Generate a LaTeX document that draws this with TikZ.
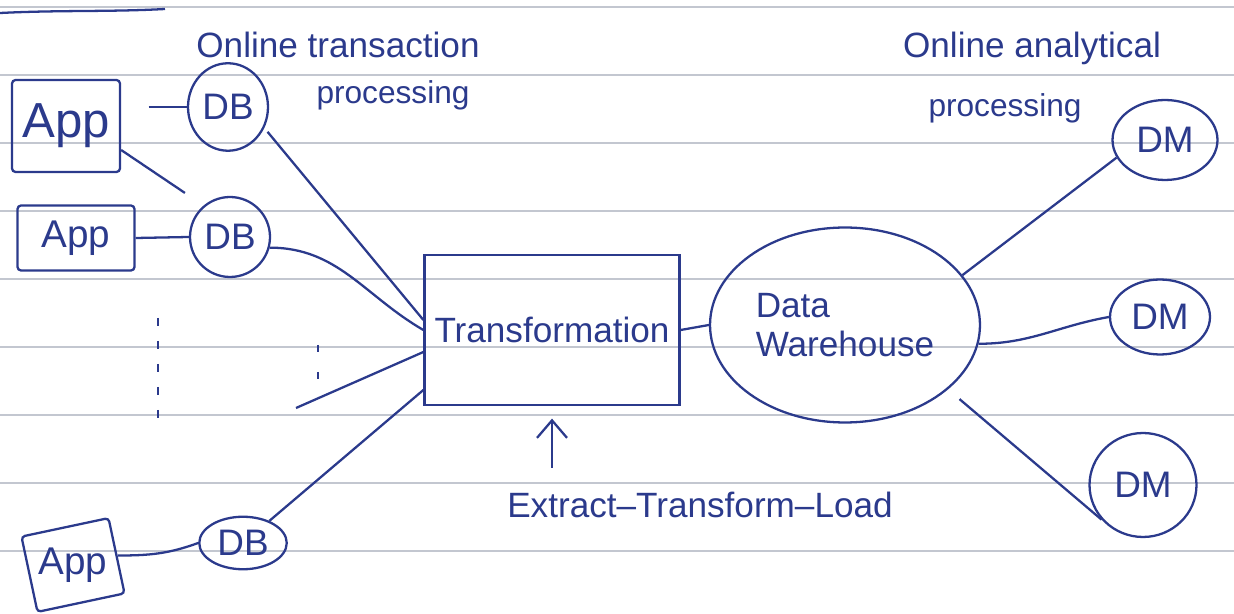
\documentclass[tikz,border=0pt]{standalone}
\usepackage{fontspec}
\setmainfont{Liberation Sans}
\usetikzlibrary{arrows.meta,shapes.geometric}

\definecolor{ink}{HTML}{2B3A8C}
\definecolor{ruling}{HTML}{C3C7D0}

\tikzset{
  pen/.style={draw=ink, line width=1.3pt},
  appbox/.style={pen, rectangle, rounded corners=2pt, inner sep=2pt, text=ink, font=\fontsize{22}{24}\selectfont},
  dbnode/.style={pen, ellipse, inner sep=0pt, text=ink, font=\fontsize{21}{23}\selectfont},
  note/.style={text=ink, font=\fontsize{20}{22}\selectfont},
  notesmall/.style={text=ink, font=\fontsize{18}{20}\selectfont},
}

\begin{document}
\begin{tikzpicture}[x=0.02cm, y=-0.02cm]
    \useasboundingbox (0,0) rectangle (1234,614);
    % ruled paper
    \foreach \ly in {7,75,...,551} \draw[ruling, line width=1pt] (0,\ly) -- (1234,\ly);
    \draw[pen] (0,13) .. controls (60,10) and (110,12) .. (165,9);

    % operational side
    \node[appbox, minimum width=2.16cm, minimum height=1.84cm, font=\fontsize{28}{30}\selectfont] (app1) at (66,126) {App};
    \node[appbox, minimum width=2.34cm, minimum height=1.3cm] (app2) at (76,238) {App};
    \node[appbox, minimum width=1.78cm, minimum height=1.54cm, rotate=12] (app3) at (73,565) {\rotatebox{-12}{App}};
    \node[dbnode, minimum width=1.6cm, minimum height=1.75cm] (db1) at (228,107) {DB};
    \node[dbnode, minimum width=1.6cm, minimum height=1.6cm] (db2) at (230,237) {DB};
    \node[dbnode, minimum width=1.75cm, minimum height=1.05cm] (db3) at (243,543) {DB};
    \coordinate (more) at (296,408);

    % etl and warehouse
    \node[pen, rectangle, minimum width=5.1cm, minimum height=3cm, note] (trans) at (552,330) {Transformation};
    \node[pen, ellipse, minimum width=5.4cm, minimum height=3.9cm, note, align=left] (dw) at (845,325) {Data\\Warehouse};
    \node[note] (etl) at (700,505) {Extract--Transform--Load};
    \coordinate (etltip) at (552,468);

    % analytical side
    \node[dbnode, minimum width=2.1cm, minimum height=1.6cm] (dm1) at (1165,140) {DM};
    \node[dbnode, minimum width=2cm, minimum height=1.5cm] (dm2) at (1160,317) {DM};
    \node[dbnode, minimum width=2.14cm, minimum height=2.08cm] (dm3) at (1143,485) {DM};

    \node[note] (oltp) at (338,45) {Online transaction};
    \node[notesmall] (oltpb) at (393,95) {processing};
    \node[note] (olap) at (1032,48) {Online analytical};
    \node[notesmall] (olapb) at (1005,108) {processing};

    \draw[pen, shorten <=0.55cm] (app1.east |- db1.west) -- (db1.west);
    \draw[pen, shorten >=0.45cm] ([yshift=-0.48cm]app1.east) -- (db2.130);
    \draw[pen] (app2.east) -- (db2.west);
    \draw[pen] (app3.east) to[out=0,in=200] (db3.west);
    \draw[pen, shorten <=0.1cm] (db1.-30) -- ([yshift=0.2cm]trans.west);
    \draw[pen] (db2.-15) to[out=0,in=150] (trans.west);
    \draw[pen] (more) -- ([yshift=-0.44cm]trans.west);
    \draw[pen] (db3.40) -- ([yshift=-1.2cm]trans.west);
    \draw[pen] (trans.east) -- (dw.west);
    \draw[pen] (dw.23) -- (dm1.200);
    \draw[pen] (dw.-8) to[out=0,in=190] (dm2.west);
    \draw[pen, shorten <=0.3cm] (dw.-32) -- (dm3.220);
    \draw[pen, -{Straight Barb[length=0.35cm, width=0.6cm]}, shorten >=0.25cm] (etltip) -- (trans.south);

    % more sources
    \draw[pen, line width=1pt, dash pattern=on 0.16cm off 0.3cm] (158,318) -- (158,420);
    \draw[pen, line width=1pt, dash pattern=on 0.14cm off 0.4cm] (318,345) -- (318,382);
\end{tikzpicture}
\end{document}
